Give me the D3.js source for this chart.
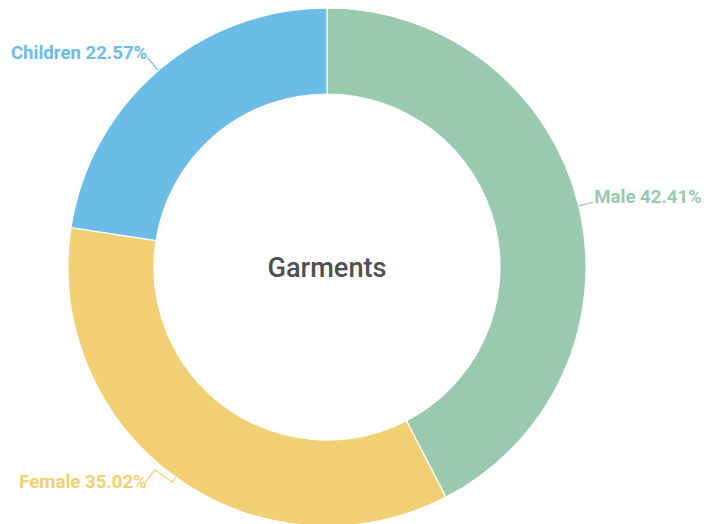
<!DOCTYPE html>
<html>
<head>
<meta charset="utf-8">
<script src="https://cdn.jsdelivr.net/npm/d3@7"></script>
<style>
  html, body { margin: 0; padding: 0; background: #ffffff; }
  svg { display: block; }
</style>
</head>
<body>
<svg id="chart" width="714" height="524"></svg>
<script>
// Share of garments by segment
const categories = ["Male", "Female", "Children"];
const shares = [42.41, 35.02, 22.57];
const colors = ["#99c9ae", "#f1cf72", "#6bbde8"];
const centerTitle = "Garments";

// Leader-line shapes: first leg runs radially outward, any extra bends are
// given as offsets from the slice edge point.
const leaderLen = [15, 6, 17];
const leaderBends = [[], [[-21, -7.5], [-30, 4.5]], []];
const labelSide = ["start", "end", "end"];
const labelShift = [[1, 0.5], [1, 6.5], [0, 1.5]];

const width = 714, height = 524;
const cx = 327, cy = 267;
const outerR = 259, innerR = 173;

const svg = d3.select("#chart");
const g = svg.append("g").attr("transform", `translate(${cx},${cy})`);

const data = categories.map((c, i) => ({ name: c, value: shares[i], idx: i }));

const pie = d3.pie().value(d => d.value).sort(null).startAngle(0).endAngle(2 * Math.PI);
const arc = d3.arc().innerRadius(innerR).outerRadius(outerR);
const arcs = pie(data);

g.selectAll("path.slice")
  .data(arcs)
  .join("path")
  .attr("class", "slice")
  .attr("d", arc)
  .attr("fill", d => colors[d.data.idx])
  .attr("stroke", "#ffffff")
  .attr("stroke-width", 1.2);

// Labels with leader lines
arcs.forEach(a => {
  const i = a.data.idx;
  const mid = (a.startAngle + a.endAngle) / 2;
  const dx = Math.sin(mid), dy = -Math.cos(mid);
  const p0 = [dx * outerR, dy * outerR];
  const p1 = [p0[0] + dx * leaderLen[i], p0[1] + dy * leaderLen[i]];
  const pts = [p0, p1].concat(leaderBends[i].map(o => [p0[0] + o[0], p0[1] + o[1]]));
  const end = pts[pts.length - 1];

  g.append("path")
    .attr("d", d3.line()(pts))
    .attr("fill", "none")
    .attr("stroke", colors[i])
    .attr("stroke-width", 1.2);

  g.append("text")
    .attr("x", end[0] + labelShift[i][0])
    .attr("y", end[1] + labelShift[i][1])
    .attr("text-anchor", labelSide[i])
    .attr("font-family", "Roboto, 'Noto Sans', sans-serif")
    .attr("font-weight", "bold")
    .attr("font-size", 18.6)
    .attr("fill", colors[i])
    .text(`${a.data.name} ${d3.format(".2f")(a.data.value)}%`);
});

g.append("text")
  .attr("x", 0)
  .attr("y", 1)
  .attr("text-anchor", "middle")
  .attr("dominant-baseline", "central")
  .attr("font-family", "Roboto, 'Noto Sans', sans-serif")
  .attr("font-weight", 500)
  .attr("font-size", 27.2)
  .attr("fill", "#4f4f4f")
  .text(centerTitle);
</script>
</body>
</html>
